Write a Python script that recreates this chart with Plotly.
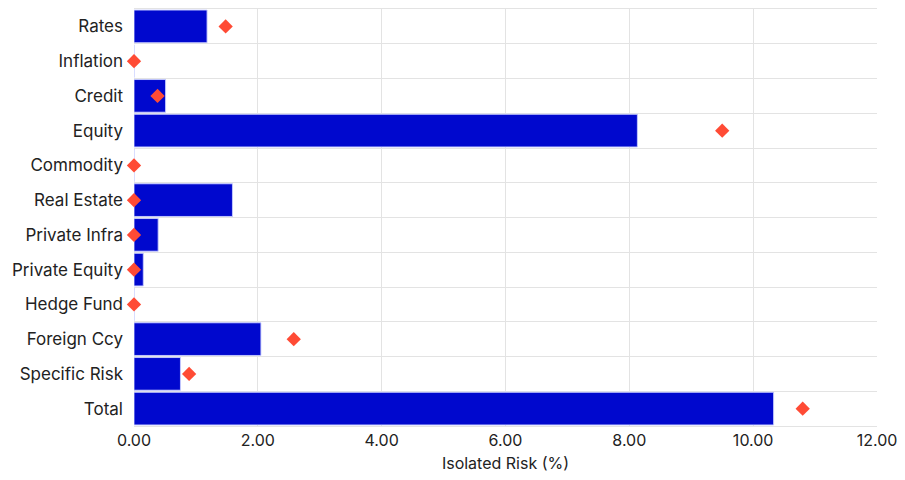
import plotly.graph_objects as go

categories = ["Rates", "Inflation", "Credit", "Equity", "Commodity", "Real Estate",
              "Private Infra", "Private Equity", "Hedge Fund", "Foreign Ccy",
              "Specific Risk", "Total"]
bar_values = [1.18, 0.0, 0.51, 8.13, 0.0, 1.59, 0.39, 0.15, 0.0, 2.05, 0.75, 10.33]
marker_values = [1.48, 0.0, 0.38, 9.50, 0.0, 0.0, 0.0, 0.0, 0.0, 2.58, 0.89, 10.80]
x_ticks = [0, 2, 4, 6, 8, 10, 12]
x_tick_labels = ["0.00", "2.00", "4.00", "6.00", "8.00", "10.00", "12.00"]

fig = go.Figure()
fig.add_trace(go.Bar(
    y=categories, x=bar_values, orientation="h",
    marker=dict(color="#0008CE", line=dict(color="rgba(200,205,255,0.9)", width=1)),
    showlegend=False, hoverinfo="x+y",
))
fig.add_trace(go.Scatter(
    y=categories, x=marker_values, mode="markers",
    marker=dict(symbol="diamond", size=11, color="#FF4B35"),
    showlegend=False, cliponaxis=False,
))

fig.update_layout(
    width=897, height=472,
    margin=dict(l=126, r=28, t=1, b=54, autoexpand=False),
    plot_bgcolor="white", paper_bgcolor="white",
    font=dict(family="Inter, 'Noto Sans', sans-serif", size=16, color="#222222"),
    bargap=0.06,
    xaxis=dict(
        range=[0, 12], tickvals=x_ticks, ticktext=x_tick_labels,
        showgrid=True, gridcolor="#E3E3E3", gridwidth=1, zeroline=False,
        showline=True, linecolor="#E3E3E3", mirror=True,
        title=dict(text="Isolated Risk (%)", standoff=8, font=dict(size=16)),
        tickfont=dict(size=16), automargin=False,
    ),
    yaxis=dict(
        categoryorder="array", categoryarray=categories,
        range=[len(categories) - 0.5, -0.5], autorange=False,
        showgrid=True, gridcolor="#E3E3E3", tickson="boundaries",
        showline=False, zeroline=False, ticks="", ticklabelstandoff=10,
        tickfont=dict(size=17), automargin=False,
    ),
)

fig.write_html("out.html")
